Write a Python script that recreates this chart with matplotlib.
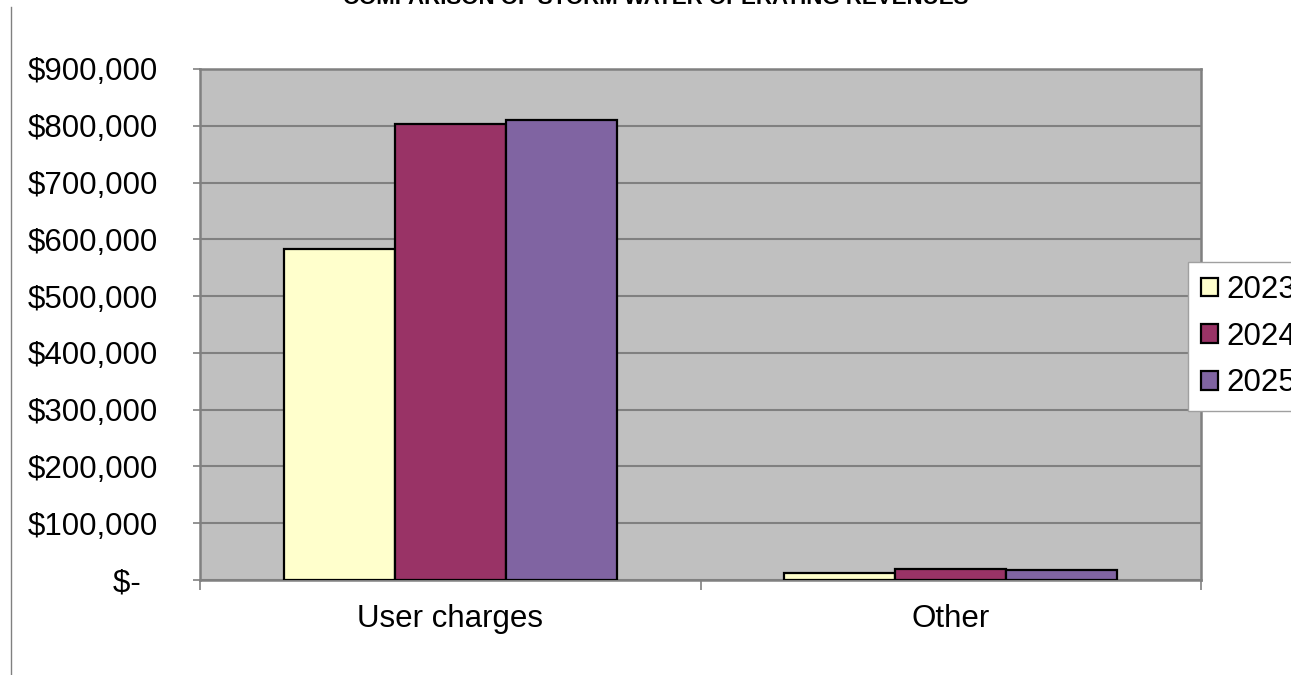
import matplotlib.pyplot as plt
from matplotlib.lines import Line2D
import numpy as np

plt.rcParams['font.family'] = ['Liberation Sans', 'DejaVu Sans']

# revenue data
categories = ["User charges", "Other"]
years = ["2023", "2024", "2025"]
revenue_2023 = [583000, 13000]
revenue_2024 = [803000, 19000]
revenue_2025 = [810000, 17000]
y_ticks = [0, 100000, 200000, 300000, 400000, 500000, 600000, 700000, 800000, 900000]
y_tick_labels = ["$-  ", "$100,000", "$200,000", "$300,000", "$400,000",
                 "$500,000", "$600,000", "$700,000", "$800,000", "$900,000"]

colors = ["#FFFFCC", "#993366", "#8064A2"]
series = [revenue_2023, revenue_2024, revenue_2025]

W, H = 1291, 675
fig = plt.figure(figsize=(W / 100, H / 100), dpi=100)
ax = fig.add_axes([200 / W, 95 / H, 1001 / W, 511 / H])
ax.set_facecolor("#C0C0C0")

x = np.arange(len(categories))
bw = 0.222
for i, (vals, c, yr) in enumerate(zip(series, colors, years)):
    ax.bar(x + (i - 1) * bw, vals, width=bw, color=c, edgecolor="black",
           linewidth=1.6, label=yr, zorder=3)

ax.set_xlim(-0.5, 1.5)
ax.set_ylim(0, 900000)
ax.set_yticks(y_ticks)
ax.set_yticklabels(y_tick_labels, fontsize=22.5)
ax.yaxis.grid(True, color="#808080", linewidth=1.5, zorder=0)

# category boundaries get the tick marks, names sit between them
ax.set_xticks([-0.5, 0.5, 1.5])
ax.set_xticklabels(["", "", ""])
ax.set_xticks(x, minor=True)
ax.set_xticklabels(categories, minor=True, fontsize=22.5)
ax.tick_params(axis="x", which="major", length=7.5, width=1.2, color="#808080")
ax.tick_params(axis="x", which="minor", length=0, pad=17)
ax.tick_params(axis="y", length=5, width=1.2, color="#808080", pad=25)

for s in ax.spines.values():
    s.set_color("#808080")
    s.set_linewidth(1.8)

fig.legend(loc="upper left", bbox_to_anchor=(1188 / W, 1 - 262 / H),
           borderaxespad=0, fontsize=22.5, handlelength=0.54, handleheight=0.54,
           handletextpad=0.28, labelspacing=0.53, borderpad=0.42,
           fancybox=False, framealpha=1, edgecolor="#A0A0A0")

fig.text(656 / W, 1 - 4 / H, "COMPARISON OF STORM WATER OPERATING REVENUES",
         ha="center", va="baseline", fontsize=16, fontweight="bold")

fig.add_artist(Line2D([11 / W, 11 / W], [0, 1 - 7 / H], transform=fig.transFigure,
                      color="#808080", linewidth=1))

fig.savefig("out.png", dpi=100)
